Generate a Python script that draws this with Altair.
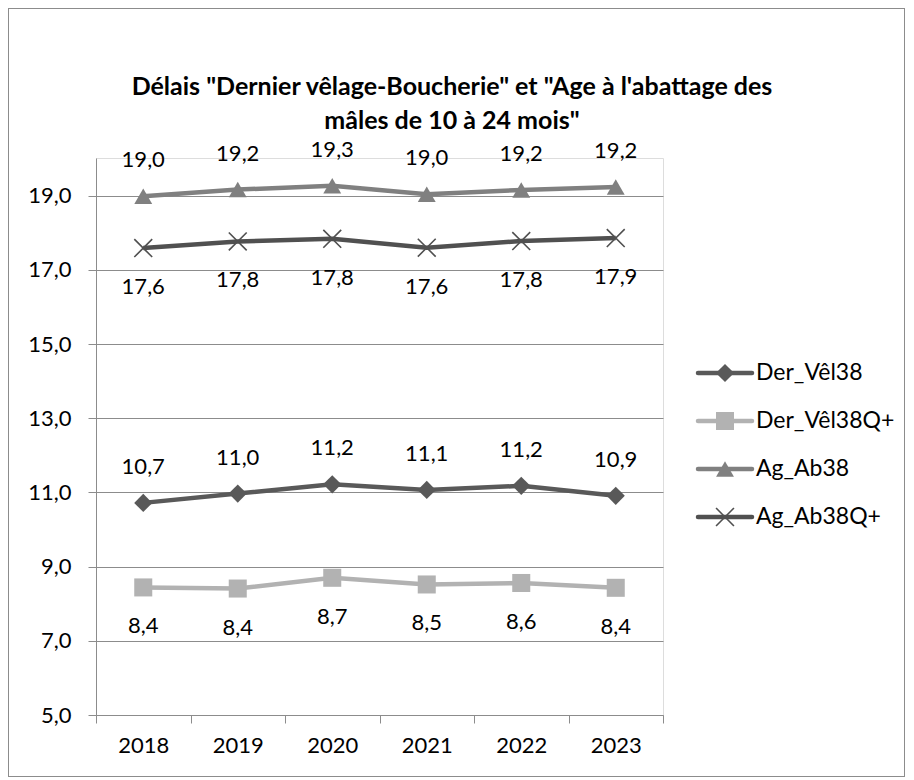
import altair as alt
import pandas as pd

years = ["2018", "2019", "2020", "2021", "2022", "2023"]
series_names = ["Der_Vêl38", "Der_Vêl38Q+", "Ag_Ab38", "Ag_Ab38Q+"]
der_vel38 = [10.72, 10.97, 11.22, 11.07, 11.18, 10.91]
der_vel38q = [8.44, 8.41, 8.70, 8.52, 8.56, 8.43]
ag_ab38 = [18.99, 19.17, 19.27, 19.04, 19.16, 19.24]
ag_ab38q = [17.59, 17.77, 17.84, 17.60, 17.78, 17.86]
label_pos = {"Der_Vêl38": "above", "Der_Vêl38Q+": "below", "Ag_Ab38": "above", "Ag_Ab38Q+": "below"}
colors = ["#595959", "#b2b2b2", "#808080", "#505050"]
y_ticks = [5, 7, 9, 11, 13, 15, 17, 19]
title_lines = ['Délais "Dernier vêlage-Boucherie" et "Age à l\'abattage des', 'mâles de 10 à 24 mois"']

rows = []
for name, vals in zip(series_names, [der_vel38, der_vel38q, ag_ab38, ag_ab38q]):
    for yr, v in zip(years, vals):
        rows.append({"year": yr, "series": name, "value": v,
                     "label": f"{v:.1f}".replace(".", ","), "pos": label_pos[name]})
df = pd.DataFrame(rows)
leg = pd.DataFrame({"series": series_names})
tdf = pd.DataFrame({"t": title_lines, "line": [0, 1]})

FONT = "Lato"
FS = 22
W, H = 567, 557

color = alt.Color("series:N", scale=alt.Scale(domain=series_names, range=colors), legend=None)
shape_dom = series_names[:3]
shape = alt.Shape("series:N", scale=alt.Scale(domain=shape_dom, range=["diamond", "square", "triangle-up"]), legend=None)
size = alt.Size("series:N", scale=alt.Scale(domain=shape_dom, range=[330, 320, 380]), legend=None)
XPATH = "M-1,-1L1,1M-1,1L1,-1"

x = alt.X("year:O", scale=alt.Scale(type="band", domain=years, paddingInner=0, paddingOuter=0),
          axis=alt.Axis(title=None, tickBand="extent", labelAngle=0, labelFontSize=FS, labelFont=FONT,
                        labelColor="#000000", domainColor="#8c8c8c", tickColor="#8c8c8c",
                        tickSize=8, labelPadding=12, grid=False))
y = alt.Y("value:Q", scale=alt.Scale(domain=[5, 20.02], nice=False, zero=False),
          axis=alt.Axis(title=None, values=y_ticks, labelExpr="replace(format(datum.value, '.1f'), '.', ',')",
                        labelFontSize=FS, labelFont=FONT, labelColor="#000000", domainColor="#8c8c8c",
                        tickColor="#8c8c8c", tickSize=8, labelPadding=17, grid=True,
                        gridColor="#8c8c8c", gridWidth=1))

base = alt.Chart(df)
border = alt.Chart(leg).mark_rect(fill=None, stroke="#8c8c8c", strokeWidth=1).encode(
    x=alt.value(-87.5), x2=alt.value(808.5), y=alt.value(-149.5), y2=alt.value(618.5))
lines = base.mark_line(strokeWidth=4.5).encode(x=x, y=y, color=color)
pts = base.transform_filter(alt.datum.series != "Ag_Ab38Q+").mark_point(filled=True, opacity=1).encode(
    x=x, y=y, color=color, shape=shape, size=size)
xs = base.transform_filter(alt.datum.series == "Ag_Ab38Q+").mark_point(
    shape=XPATH, size=320, filled=False, strokeWidth=1.6, opacity=1, color="#505050").encode(x=x, y=y)
txt_above = base.transform_filter(alt.datum.pos == "above").mark_text(
    dy=-36, fontSize=FS, font=FONT, color="#000000").encode(x=x, y=y, text="label:N")
txt_below = base.transform_filter(alt.datum.pos == "below").mark_text(
    dy=39, fontSize=FS, font=FONT, color="#000000").encode(x=x, y=y, text="label:N")

main = alt.layer(lines, pts, xs, txt_above, txt_below)

ly = alt.Y("series:N", scale=alt.Scale(type="point", domain=series_names, range=[215, 359], padding=0), axis=None)
leg_base = alt.Chart(leg)
leg_rule = leg_base.mark_rule(strokeWidth=4.5, strokeCap="round").encode(
    x=alt.value(602), x2=alt.value(656), y=ly, color=color)
leg_pts = leg_base.transform_filter(alt.datum.series != "Ag_Ab38Q+").mark_point(filled=True, opacity=1).encode(
    x=alt.value(629), y=ly, color=color, shape=shape, size=size)
leg_x = leg_base.transform_filter(alt.datum.series == "Ag_Ab38Q+").mark_point(
    shape=XPATH, size=320, filled=False, strokeWidth=1.6, opacity=1, color="#505050").encode(
    x=alt.value(629), y=ly)
leg_txt = leg_base.mark_text(align="left", baseline="middle", fontSize=23, font=FONT, color="#000000").encode(
    x=alt.value(660), y=ly, text="series:N")

ty = alt.Y("line:O", scale=alt.Scale(type="point", domain=[0, 1], range=[-71, -37], padding=0), axis=None)
title = alt.Chart(tdf).mark_text(align="center", baseline="middle", fontSize=25, font=FONT,
                                 fontWeight="bold", color="#000000").encode(
    x=alt.value(356), y=ty, text="t:N")

legend = alt.layer(leg_rule, leg_pts, leg_x, leg_txt)

chart = alt.layer(border, main, legend, title).resolve_scale(y="independent").properties(
    width=W, height=H,
    autosize=alt.AutoSizeParams(type="none"),
    padding={"left": 88, "top": 150, "right": 243, "bottom": 62},
).configure_view(stroke=None).configure(background="#ffffff")

chart.save("out.html", embed_options={"renderer": "svg", "actions": False})
